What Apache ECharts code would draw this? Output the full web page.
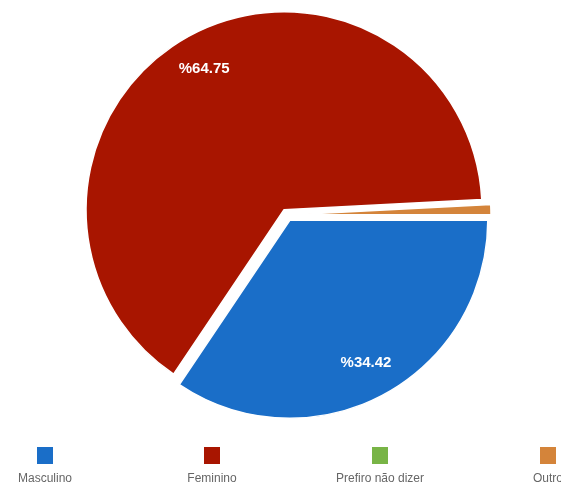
<!DOCTYPE html>
<html>
<head>
<meta charset="utf-8">
<script src="https://cdn.jsdelivr.net/npm/echarts@6/dist/echarts.min.js"></script>
<style>
  html, body { margin: 0; padding: 0; background: #ffffff; }
  #chart { width: 561px; height: 483px; }
</style>
</head>
<body>
<div id="chart"></div>
<script>
// Gender split of respondents (percent)
const categories = ['Masculino', 'Feminino', 'Prefiro não dizer', 'Outro'];
const shares = [34.42, 64.75, 0, 0.83];
const colors = ['#1a6ec8', '#a81500', '#78b446', '#d4843a'];

// Layout
const CX = 287, CY = 215, R = 198;
const legendCenters = [45, 212, 380, 548];
const legendTop = 445;
const LEGEND_TEXT_W = 120;
const ICON_W = 18, ICON_H = 19;

const slices = categories.map((name, i) => ({
  name: name,
  value: shares[i],
  selected: true,
  itemStyle: { color: colors[i] }
}));

const chart = echarts.init(document.getElementById('chart'), null, { renderer: 'canvas' });

// one legend per entry: square swatch with its caption centred underneath
const legends = categories.map((name, i) => ({
  data: [name],
  selectedMode: false,
  left: legendCenters[i] - LEGEND_TEXT_W / 2,
  top: legendTop,
  padding: 0,
  icon: 'rect',
  itemWidth: ICON_W,
  itemHeight: ICON_H,
  formatter: '{t|{name}}',
  textStyle: {
    padding: [46, 0, 0, -(5 + ICON_W / 2 + LEGEND_TEXT_W / 2)],
    rich: {
      t: {
        width: LEGEND_TEXT_W,
        align: 'center',
        backgroundColor: 'transparent',
        fontSize: 12,
        color: '#666666',
        fontFamily: 'Liberation Sans, Arial, sans-serif'
      }
    }
  }
}));

chart.setOption({
  animation: false,
  backgroundColor: '#ffffff',
  color: colors,
  legend: legends,
  series: [
    {
      type: 'pie',
      center: [CX, CY],
      radius: [0, R],
      startAngle: 0,
      clockwise: true,
      selectedMode: 'multiple',
      selectedOffset: 6,
      silent: true,
      data: slices,
      label: { show: false },
      labelLine: { show: false },
      itemStyle: { borderColor: '#ffffff', borderWidth: 1.5 }
    },
    {
      // transparent ring carrying the percentage labels near the rim
      type: 'pie',
      center: [CX, CY],
      radius: [120, R],
      startAngle: 0,
      clockwise: true,
      selectedMode: 'multiple',
      selectedOffset: 6,
      silent: true,
      data: categories.map((name, i) => ({ name: name, value: shares[i], selected: true })),
      itemStyle: { color: 'transparent', borderWidth: 0 },
      labelLine: { show: false },
      label: {
        show: true,
        position: 'inside',
        color: '#ffffff',
        fontSize: 15,
        fontWeight: 'bold',
        fontFamily: 'Liberation Sans, Arial, sans-serif',
        formatter: p => (p.value >= 5 ? '%' + p.value : '')
      }
    }
  ]
});
</script>
</body>
</html>
